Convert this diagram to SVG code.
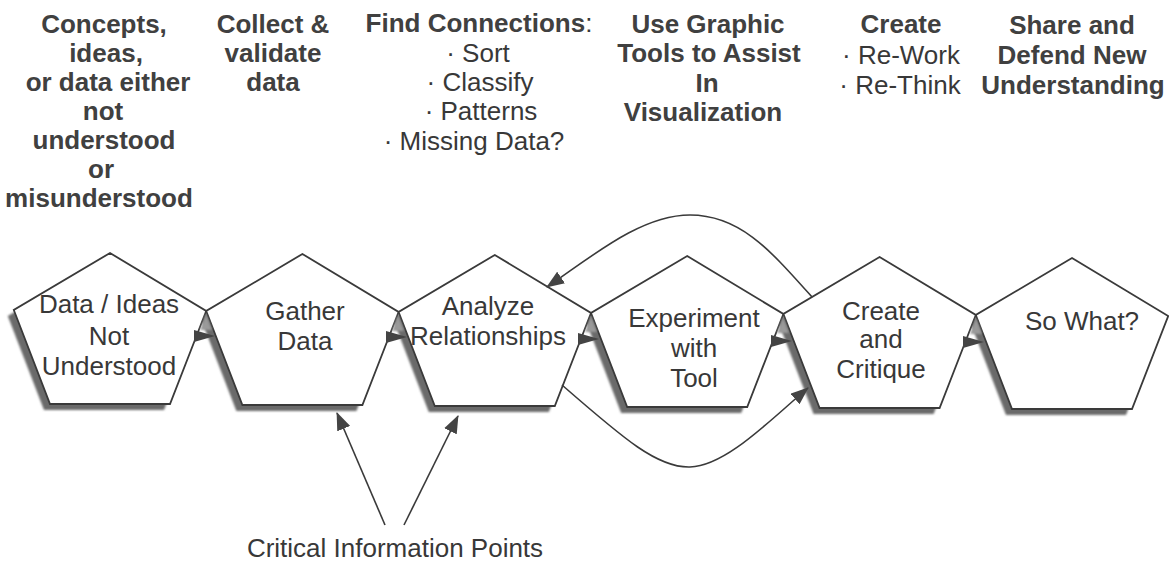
<svg xmlns="http://www.w3.org/2000/svg" width="1169" height="562" viewBox="0 0 1169 562">
<defs>
<style>
text{font-family:"Liberation Sans",Arial,Helvetica,sans-serif;fill:#383838;text-anchor:middle;font-size:26px}
.b{font-weight:bold;fill:#404040}
.r{font-weight:normal}
.pent{fill:#fff;stroke:#3a3a3a;stroke-width:1.8;stroke-linejoin:miter}
.shadow{fill:#6a6a6a;filter:url(#blur)}
.conn{fill:none;stroke:#3a3a3a;stroke-width:1.6}
.head{fill:#444;stroke:none}
.vshade{fill:#9a9a9a;filter:url(#blur)}
</style>
<filter id="blur" x="-10%" y="-10%" width="120%" height="130%"><feGaussianBlur stdDeviation="1.3"/></filter>
<marker id="arr" viewBox="0 0 18 14" markerUnits="userSpaceOnUse" markerWidth="18" markerHeight="14" refX="17" refY="7" orient="auto"><path d="M0,0 L18,7 L0,14 z" fill="#444"/></marker>
</defs>
<rect width="1169" height="562" fill="#fff"/>

<g id="headers">
<text class="b" x="104" y="33">Concepts,</text>
<text class="b" x="106" y="62">ideas,</text>
<text class="b" x="108" y="91">or data either</text>
<text class="b" x="103" y="120">not</text>
<text class="b" x="104" y="149">understood</text>
<text class="b" x="101" y="178">or</text>
<text class="b" x="99" y="207">misunderstood</text>

<text class="b" x="273" y="33">Collect &amp;</text>
<text class="b" x="273" y="62">validate</text>
<text class="b" x="273" y="91">data</text>

<text x="479" y="32"><tspan class="b">Find Connections</tspan><tspan class="r">:</tspan></text>
<text class="r" x="478" y="62">· Sort</text>
<text class="r" x="480" y="91">· Classify</text>
<text class="r" x="481" y="120">· Patterns</text>
<text class="r" x="474" y="150">· Missing Data?</text>

<text class="b" x="708" y="33">Use Graphic</text>
<text class="b" x="709" y="62">Tools to Assist</text>
<text class="b" x="707" y="92">In</text>
<text class="b" x="703" y="121">Visualization</text>

<text class="b" x="901" y="33">Create</text>
<text class="r" x="901" y="64">· Re-Work</text>
<text class="r" x="900" y="94">· Re-Think</text>

<text class="b" x="1072" y="34">Share and</text>
<text class="b" x="1072" y="64">Defend New</text>
<text class="b" x="1073" y="94">Understanding</text>
</g>

<g id="shadows" transform="translate(-6,6)">
<polygon class="shadow" points="110,253 206.2,311 170,404 50,404 13.8,310"/>
<polygon class="shadow" points="302.4,254 398.6,312 362.4,405 242.4,405 206.2,311"/>
<polygon class="shadow" points="494.8,255 591,313 554.8,406 434.8,406 398.6,312"/>
<polygon class="shadow" points="687.2,256 783.4,314 747.2,407 627.2,407 591,313"/>
<polygon class="shadow" points="879.6,257 975.8,315 939.6,408 819.6,408 783.4,314"/>
<polygon class="shadow" points="1072,258 1168.2,316 1132,409 1012,409 975.8,315"/>
</g>

<g id="node-data-ideas">
<polygon class="pent" points="110,253 206.2,311 170,404 50,404 13.8,310"/>
<text x="109" y="313">Data / Ideas</text>
<text x="109" y="345">Not</text>
<text x="109" y="375">Understood</text>
</g>

<g id="node-gather-data">
<polygon class="pent" points="302.4,254 398.6,312 362.4,405 242.4,405 206.2,311"/>
<text x="305" y="320">Gather</text>
<text x="305" y="350">Data</text>
</g>

<g id="node-analyze">
<polygon class="pent" points="494.8,255 591,313 554.8,406 434.8,406 398.6,312"/>
<text x="488" y="315">Analyze</text>
<text x="488" y="345">Relationships</text>
</g>

<g id="node-experiment">
<polygon class="pent" points="687.2,256 783.4,314 747.2,407 627.2,407 591,313"/>
<text x="694" y="327">Experiment</text>
<text x="694" y="357">with</text>
<text x="694" y="387">Tool</text>
</g>

<g id="node-create">
<polygon class="pent" points="879.6,257 975.8,315 939.6,408 819.6,408 783.4,314"/>
<text x="881" y="320">Create</text>
<text x="881" y="348">and</text>
<text x="881" y="378">Critique</text>
</g>

<g id="node-so-what">
<polygon class="pent" points="1072,258 1168.2,316 1132,409 1012,409 975.8,315"/>
<text x="1082" y="330">So What?</text>
</g>

<g id="connectors">
<polygon class="vshade" points="206,314 200,330 212,330"/>
<polygon class="vshade" points="398,315 392,331 404,331"/>
<polygon class="vshade" points="591,316 585,332 597,332"/>
<polygon class="vshade" points="783,317 777,333 789,333"/>
<polygon class="vshade" points="976,318 970,334 982,334"/>
<polygon class="head" points="194,330 215,336 194,342"/>
<polygon class="head" points="386,331 407,337 386,343"/>
<polygon class="head" points="578,333 599,339 578,345"/>
<polygon class="head" points="771,335 792,341 771,347"/>
<polygon class="head" points="963,336 984,342 963,348"/>
<path class="conn" d="M812,297 C770,250 740,215 690,215 C640,215 590,258 547,287" marker-end="url(#arr)"/>
<path class="conn" d="M562,385 C625,440 658,468 690,467 C726,466 770,420 808,388" marker-end="url(#arr)"/>
<line class="conn" x1="385" y1="525" x2="337" y2="413" marker-end="url(#arr)"/>
<line class="conn" x1="404" y1="525" x2="458" y2="416" marker-end="url(#arr)"/>
</g>

<g id="label-critical">
<text x="395" y="557">Critical Information Points</text>
</g>
</svg>
